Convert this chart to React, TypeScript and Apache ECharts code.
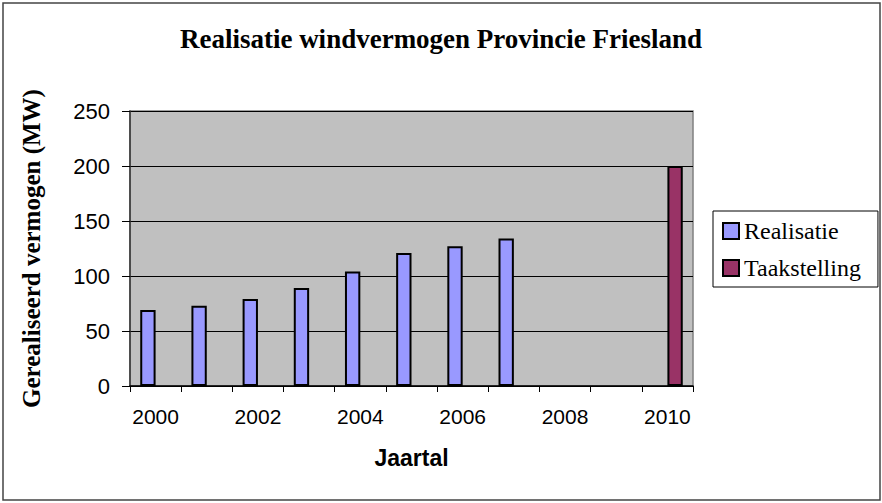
import React, { useEffect, useRef } from "react";
import * as echarts from "echarts";

const years = ["2000", "2001", "2002", "2003", "2004", "2005", "2006", "2007", "2008", "2009", "2010"];
const realisatie = [69, 73, 79, 89, 104, 121, 127, 134, null, null, null];
const taakstelling = [null, null, null, null, null, null, null, null, null, null, 200];
const yTicks = { min: 0, max: 250, interval: 50 };

const SERIF = "'Liberation Serif', 'Times New Roman', serif";
const SANS = "'Liberation Sans', Arial, sans-serif";

export default function App() {
  const ref = useRef<HTMLDivElement>(null);
  useEffect(() => {
    if (!ref.current) return;
    const chart = echarts.init(ref.current, undefined, { renderer: "svg" });
    chart.setOption({
      animation: false,
      backgroundColor: "#ffffff",
      title: {
        text: "Realisatie windvermogen Provincie Friesland",
        left: "center",
        top: 20,
        textStyle: { fontFamily: SERIF, fontWeight: "bold", fontSize: 27, color: "#000" },
      },
      graphic: [
        {
          type: "rect",
          shape: { x: 3, y: 3, width: 877, height: 497 },
          style: { fill: "none", stroke: "#444", lineWidth: 1.5 },
          silent: true,
        },
      ],
      legend: {
        orient: "vertical",
        left: 713,
        top: 211,
        padding: [8, 17, 7, 9],
        itemGap: 13,
        itemWidth: 16,
        itemHeight: 16,
        icon: "rect",
        borderColor: "#000",
        borderWidth: 1,
        backgroundColor: "#fff",
        textStyle: { fontFamily: SERIF, fontSize: 24, color: "#000", lineHeight: 24 },
        data: ["Realisatie", "Taakstelling"],
      },
      grid: {
        left: 130,
        right: 189,
        top: 111,
        bottom: 117,
        show: true,
        backgroundColor: "#C0C0C0",
        borderColor: "#808080",
        borderWidth: 1.5,
      },
      xAxis: {
        type: "category",
        data: years,
        boundaryGap: true,
        axisLine: { lineStyle: { color: "#000", width: 1.5 } },
        axisTick: { show: true, interval: 0, length: 6, lineStyle: { color: "#000" } },
        axisLabel: { interval: 1, fontFamily: SANS, fontSize: 21, color: "#000", margin: 20 },
        name: "Jaartal",
        nameLocation: "middle",
        nameGap: 60,
        nameTextStyle: { fontFamily: SANS, fontWeight: "bold", fontSize: 23, color: "#000" },
        splitLine: { show: false },
      },
      yAxis: {
        type: "value",
        min: yTicks.min,
        max: yTicks.max,
        interval: yTicks.interval,
        axisLine: { show: true, lineStyle: { color: "#333", width: 1.5 } },
        axisTick: { show: true, length: 8, lineStyle: { color: "#000" } },
        axisLabel: { fontFamily: SANS, fontSize: 22, color: "#000", margin: 20 },
        splitLine: { show: true, lineStyle: { color: "#000", width: 1 } },
        name: "Gerealiseerd vermogen (MW)",
        nameLocation: "middle",
        nameRotate: 90,
        nameGap: 86,
        nameTextStyle: { fontFamily: SERIF, fontWeight: "bold", fontSize: 25, color: "#000" },
      },
      series: [
        {
          name: "Realisatie",
          type: "bar",
          data: realisatie,
          barGap: "0%",
          barCategoryGap: "40%",
          itemStyle: { color: "#9999FF", borderColor: "#000", borderWidth: 2 },
        },
        {
          name: "Taakstelling",
          type: "bar",
          data: taakstelling,
          barGap: "0%",
          barCategoryGap: "40%",
          itemStyle: { color: "#993366", borderColor: "#000", borderWidth: 2 },
        },
      ],
    });
    return () => chart.dispose();
  }, []);
  return (
    <div
      ref={ref}
      style={{ position: "fixed", left: 0, top: 0, width: 882, height: 503 }}
    />
  );
}
